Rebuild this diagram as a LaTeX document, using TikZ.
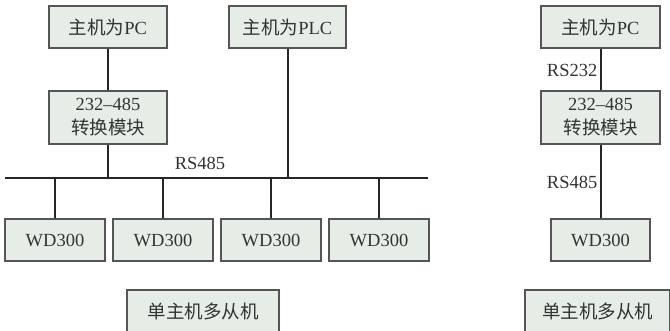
\documentclass[tikz,border=0pt]{standalone}
\usepackage{fontspec}
\setmainfont{Liberation Serif}
\newfontfamily\cjk{Noto Sans CJK SC}
\definecolor{boxfill}{HTML}{E6EDE6}
\definecolor{boxdraw}{HTML}{555555}
\definecolor{txt}{HTML}{333333}
\begin{document}
\begin{tikzpicture}[x=1pt,y=-1pt,
  box/.style={draw=boxdraw,line width=1.2pt,fill=boxfill,text=txt,inner sep=0pt,align=center,
    font=\fontsize{18.5}{24}\selectfont},
  wire/.style={line width=2pt,draw=black!85},
  lbl/.style={text=txt,inner sep=0pt,font=\fontsize{18.5}{20}\selectfont}]
\path[use as bounding box,clip] (0,0) rectangle (670,331);
% left diagram
\node[box,minimum width=118pt,minimum height=42pt] (pc1) at (108,27) {{\cjk 主机为}PC};
\node[box,minimum width=117pt,minimum height=42pt] (plc) at (287.5,27) {{\cjk 主机为}PLC};
\node[box,minimum width=118pt,minimum height=53pt] (conv1) at (108,117.5) {232–485\\{\cjk 转换模块}};
\node[box,minimum width=100pt,minimum height=42pt] (wd1) at (55,240) {WD300};
\node[box,minimum width=100pt,minimum height=42pt] (wd2) at (163,240) {WD300};
\node[box,minimum width=100pt,minimum height=42pt] (wd3) at (271,240) {WD300};
\node[box,minimum width=100pt,minimum height=42pt] (wd4) at (379,240) {WD300};
\node[box,minimum width=152pt,minimum height=42pt] (title1) at (203,311) {\cjk 单主机多从机};
\coordinate (busL) at (5,178);
\coordinate (busR) at (428,178);
\draw[wire] (busL) -- (busR);
\draw[wire] (pc1.south) -- (conv1.north);
\draw[wire] (conv1.south) -- (conv1.south |- busL);
\draw[wire] (plc.south) -- (plc.south |- busL);
\foreach \w in {wd1,wd2,wd3,wd4} \draw[wire] (\w.north) -- (\w.north |- busL);
\node[lbl,anchor=base] (rsbus) at (200,170) {RS485};
% right diagram
\node[box,minimum width=119pt,minimum height=42pt] (pc2) at (600.5,27) {{\cjk 主机为}PC};
\node[box,minimum width=119pt,minimum height=53pt] (conv2) at (600.5,117.5) {232–485\\{\cjk 转换模块}};
\node[box,minimum width=99pt,minimum height=42pt] (wd5) at (600.5,240) {WD300};
\node[box,minimum width=145pt,minimum height=42pt] (title2) at (597.5,311) {\cjk 单主机多从机};
\draw[wire] (pc2.south) -- (conv2.north);
\draw[wire] (conv2.south) -- (wd5.north);
\node[lbl,anchor=east] (rs232) at (597.5,70) {RS232};
\node[lbl,anchor=east] (rs485) at (597.5,182) {RS485};
\end{tikzpicture}
\end{document}
